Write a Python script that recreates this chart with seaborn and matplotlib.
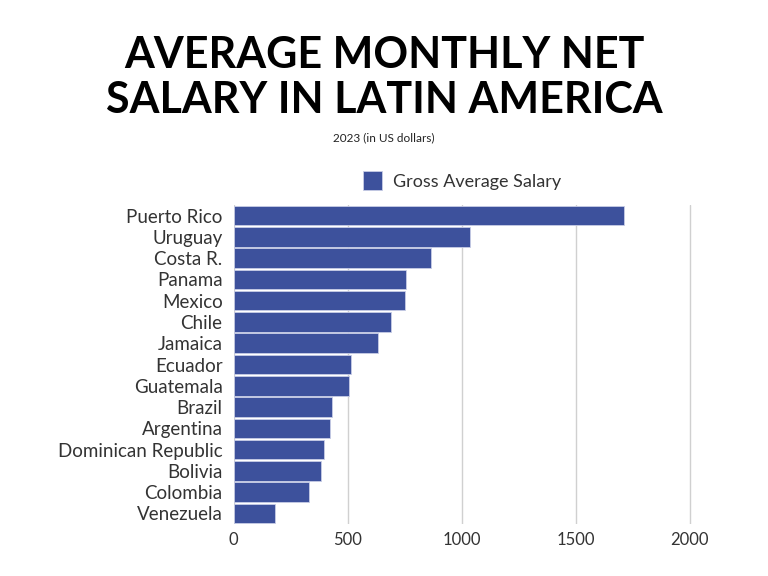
import matplotlib
matplotlib.use("Agg")
import matplotlib.pyplot as plt
import seaborn as sns
import pandas as pd

countries = ["Puerto Rico", "Uruguay", "Costa R.", "Panama", "Mexico", "Chile", "Jamaica",
             "Ecuador", "Guatemala", "Brazil", "Argentina", "Dominican Republic", "Bolivia",
             "Colombia", "Venezuela"]
salaries = [1713, 1038, 865, 754, 750, 691, 631, 516, 506, 433, 422, 395, 384, 330, 183]
series_name = "Gross Average Salary"
x_ticks = [0, 500, 1000, 1500, 2000]

df = pd.DataFrame({"Country": countries, "Salary": salaries, "Series": series_name})

sns.set_theme(style="white")
plt.rcParams["font.family"] = ["Lato", "DejaVu Sans"]

fig = plt.figure(figsize=(7.68, 5.76), dpi=100)
x0, x1 = 233.7, 689.7
xmax = 2020
right_px = x0 + (x1 - x0) * xmax / 2000
ax = fig.add_axes([x0 / 768, 1 - 524 / 576, (right_px - x0) / 768, (524 - 205) / 576])

bar_color = "#3D519C"
sns.barplot(data=df, x="Salary", y="Country", hue="Series", palette=[bar_color],
            saturation=1, width=0.92, edgecolor="#c8cde6", linewidth=0.6, ax=ax, zorder=3)

ax.set_xlim(0, xmax)
ax.set_ylim(14.5, -0.5)
ax.set_xticks(x_ticks)
ax.set_xticklabels([str(t) for t in x_ticks], fontsize=12, color="#333333")
ax.tick_params(axis="y", labelsize=13.5, labelcolor="#333333", length=0, pad=8)
ax.tick_params(axis="x", length=0, pad=6)
ax.set_xlabel("")
ax.set_ylabel("")
ax.grid(axis="x", color="#d0d0d0", linewidth=1, zorder=0)
ax.set_axisbelow(True)
for s in ax.spines.values():
    s.set_visible(False)

leg = ax.legend(loc="lower center", bbox_to_anchor=(0.5 * 2000 / xmax, 0.995), frameon=False,
                fontsize=13, handlelength=1.05, handleheight=1.25, handletextpad=0.6)
for t in leg.get_texts():
    t.set_color("#333333")

fig.text(0.5, 1 - 55 / 576, "AVERAGE MONTHLY NET", ha="center", va="center",
         fontsize=31, fontweight="bold", color="black")
fig.text(0.5, 1 - 100 / 576, "SALARY IN LATIN AMERICA", ha="center", va="center",
         fontsize=31, fontweight="bold", color="black")
fig.text(0.5, 1 - 138 / 576, "2023 (in US dollars)", ha="center", va="center",
         fontsize=8.5, color="#222222")

fig.savefig("out.png", dpi=100, facecolor="white")
